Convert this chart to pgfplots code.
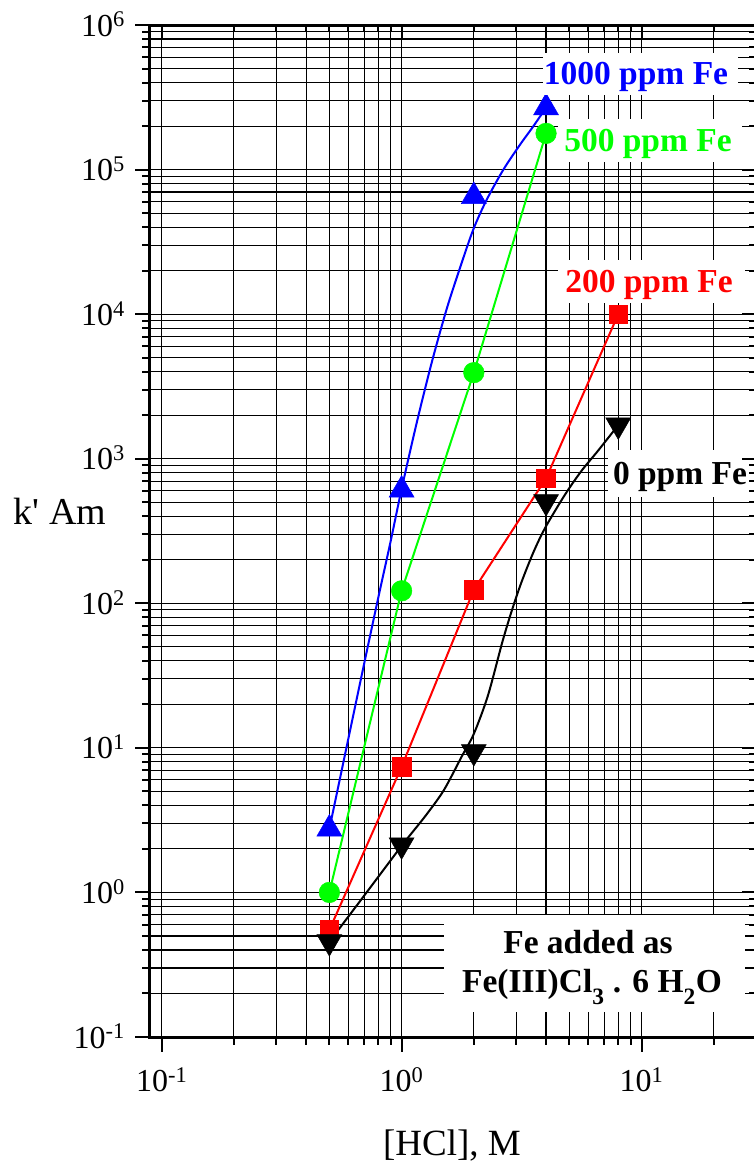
\documentclass[border=0pt]{standalone}
\usepackage{pgfplots}
\pgfplotsset{compat=1.18}
\usepackage{fontspec}
\setmainfont{Liberation Serif}
\definecolor{cblue}{RGB}{0,0,255}
\definecolor{cgreen}{RGB}{0,255,0}
\definecolor{cred}{RGB}{255,0,0}
\begin{document}
\begin{tikzpicture}
\useasboundingbox (-150pt,-126pt) rectangle (604pt,1037pt);
\begin{axis}[
  at={(0pt,0pt)}, anchor=south west,
  scale only axis, width=606pt, height=1012pt,
  xmode=log, ymode=log,
  xmin=0.0894, xmax=30, ymin=0.1, ymax=1e6,
  xtick={0.1,1,10},
  ytick={0.1,1,10,100,1000,10000,100000,1000000},
  minor xtick={0.2,0.3,0.4,0.5,0.6,0.7,0.8,0.9,2,3,4,5,6,7,8,9,20,30},
  minor ytick={0.2,0.3,0.4,0.5,0.6,0.7,0.8,0.9,2,3,4,5,6,7,8,9,20,30,40,50,60,70,80,90,200,300,400,500,600,700,800,900,2000,3000,4000,5000,6000,7000,8000,9000,20000,30000,40000,50000,60000,70000,80000,90000,200000,300000,400000,500000,600000,700000,800000,900000},
  axis line style={line width=3pt, line cap=rect},
  major tick length=15pt, minor tick length=8pt,
  every tick/.append style={black, line width=2pt},
  grid=both,
  major grid style={black, line width=1.1pt},
  minor grid style={black, line width=1.1pt},
  tick align=outside,
  xtick pos=left, ytick pos=left,
  xticklabels={10\textsuperscript{-1},10\textsuperscript{0},10\textsuperscript{1}},
  yticklabels={10\textsuperscript{-1},10\textsuperscript{0},10\textsuperscript{1},10\textsuperscript{2},10\textsuperscript{3},10\textsuperscript{4},10\textsuperscript{5},10\textsuperscript{6}},
  xticklabel style={font=\fontsize{32}{32}\selectfont, anchor=base, inner sep=0pt, yshift=-40pt},
  yticklabel style={font=\fontsize{32}{32}\selectfont, anchor=base east, inner sep=0pt, yshift=-11pt, xshift=-10pt},
]
% 1000 ppm: fitted curve and points
\addplot[cblue, line width=2pt, smooth, no markers] coordinates {(0.5,2.75)(0.6,11.6)(0.7,39)(0.8,110)(0.9,268)(1,617)(1.155,1760)(1.334,4600)(1.54,10800)(1.75,20800)(1.99,38500)(2.26,61600)(2.65,99300)(3.11,148000)(3.53,198000)(4,268000)};
\addplot[cblue, only marks, mark=triangle*, mark size=14.4pt, mark options={line width=0.5pt}] coordinates {(0.5,2.75)(1,608)(2,65300)(4,268000)};
% 500 ppm
\addplot[cgreen, line width=2pt, mark=*, mark size=10.3pt, mark options={line width=0.5pt}] coordinates {(0.5,1.0)(1,122)(2,3940)(4,178000)};
% 200 ppm
\addplot[cred, line width=2pt, mark=square*, mark size=9.3pt, mark options={line width=0.5pt}] coordinates {(0.5,0.55)(1,7.4)(2,124)(4,731)(8,10000)};
% 0 ppm: fitted curve and points
\addplot[black, line width=2pt, smooth, no markers] coordinates {(0.5,0.456)(0.7,0.955)(1,2.1)(1.26,3.4)(1.5,5.1)(1.78,8.7)(2,12.5)(2.29,23)(2.63,54)(2.88,89)(3.16,140)(3.55,227)(3.98,336)(4.79,562)(5.62,824)(6.6,1140)(8,1710)};
\addplot[black, only marks, mark=triangle*, mark size=14.4pt, mark options={rotate=180, line width=0.5pt}] coordinates {(0.5,0.456)(1,2.13)(2,9.4)(4,504)(8,1710)};
\end{axis}
% label boxes
\fill[white] (393pt,942pt) rectangle (588pt,984pt);
\fill[white] (408pt,875pt) rectangle (592pt,918pt);
\fill[white] (408pt,734pt) rectangle (595pt,777pt);
\fill[white] (458pt,540pt) rectangle (600pt,587pt);
\fill[white] (294pt,25pt) rectangle (595pt,122pt);
\begin{scope}[every node/.style={inner sep=0pt, anchor=base, font=\bfseries\fontsize{33.5}{33.5}\selectfont}]
\node[text=cblue] at (486pt,952pt) {1000 ppm Fe};
\node[text=cgreen] at (498pt,885pt) {500 ppm Fe};
\node[text=cred] at (499pt,744pt) {200 ppm Fe};
\node[text=black] at (530pt,552pt) {0 ppm Fe};
\node[text=black] at (438pt,84pt) {Fe added as};
\node[text=black] at (442pt,45pt) {Fe(III)Cl\raisebox{-0.35ex}{\textsubscript{3}} . 6 H\raisebox{-0.35ex}{\textsubscript{2}}O};
\end{scope}
\node[inner sep=0pt, anchor=base, font=\fontsize{38}{38}\selectfont] at (-90pt,512pt) {k\textquotesingle{} Am};
\node[inner sep=0pt, anchor=base, font=\fontsize{37}{37}\selectfont] at (302pt,-118pt) {[HCl], M};
\begin{axis}[
  at={(0pt,0pt)}, anchor=south west,
  scale only axis, width=606pt, height=1012pt,
  xmode=log, ymode=log,
  xmin=0.0894, xmax=30, ymin=0.1, ymax=1e6,
  xtick={0.1,1,10},
  ytick={0.1,1,10,100,1000,10000,100000,1000000},
  minor xtick={0.2,0.3,0.4,0.5,0.6,0.7,0.8,0.9,2,3,4,5,6,7,8,9,20,30},
  minor ytick={0.2,0.3,0.4,0.5,0.6,0.7,0.8,0.9,2,3,4,5,6,7,8,9,20,30,40,50,60,70,80,90,200,300,400,500,600,700,800,900,2000,3000,4000,5000,6000,7000,8000,9000,20000,30000,40000,50000,60000,70000,80000,90000,200000,300000,400000,500000,600000,700000,800000,900000},
  axis line style={line width=3pt, line cap=rect},
  every tick/.append style={black, line width=2pt},
  tick align=inside,
  xtick pos=right, ytick pos=right,
  xticklabels={}, yticklabels={},
  major tick length=14pt, minor tick length=7pt,
]
\end{axis}
\end{tikzpicture}
\end{document}
